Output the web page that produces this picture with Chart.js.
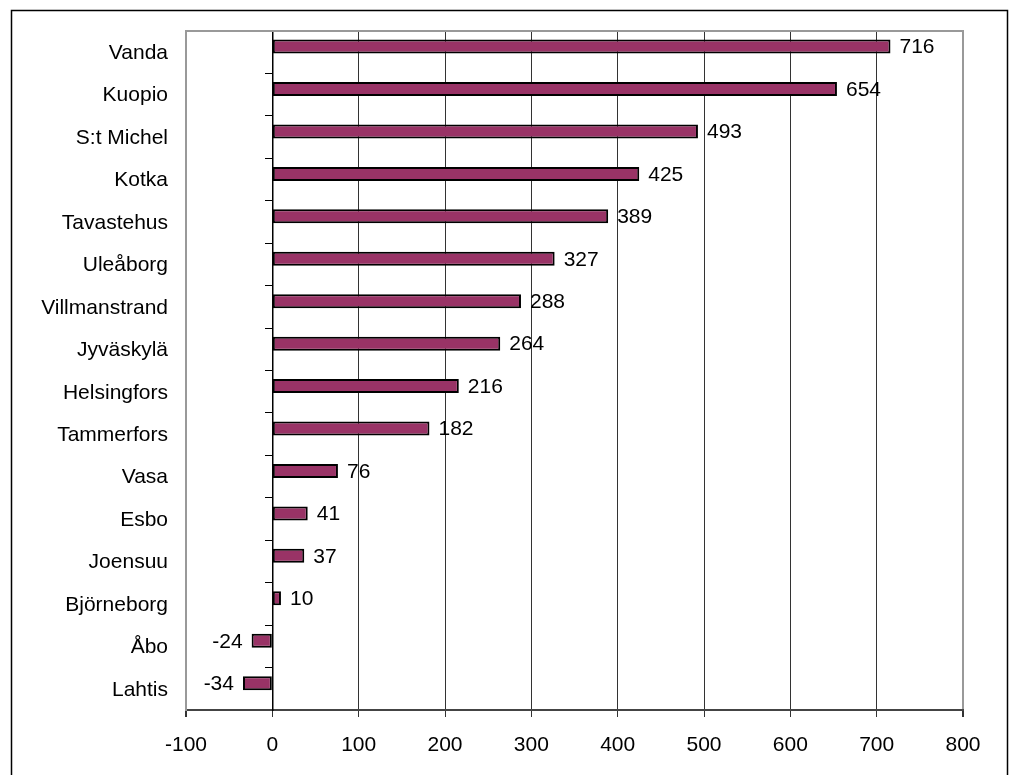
<!DOCTYPE html>
<html>
<head>
<meta charset="utf-8">
<title>Befolkningsökning per stad</title>
<script src="https://cdn.jsdelivr.net/npm/chart.js@4.4.1/dist/chart.umd.min.js"></script>
<style>
  html, body { margin: 0; padding: 0; background: #fff; }
  canvas { display: block; }
</style>
</head>
<body>
<canvas id="growthChart" width="1013" height="775"></canvas>
<script>
// Cities, top to bottom
const cities = ['Vanda', 'Kuopio', 'S:t Michel', 'Kotka', 'Tavastehus', 'Uleåborg',
    'Villmanstrand', 'Jyväskylä', 'Helsingfors', 'Tammerfors', 'Vasa', 'Esbo',
    'Joensuu', 'Björneborg', 'Åbo', 'Lahtis'];
const growth = [716, 654, 493, 425, 389, 327, 288, 264, 216, 182, 76, 41, 37, 10, -24, -34];
// empty second series, keeps the bars shifted up inside each category like the old sheet
const spare = cities.map(() => null);

const axisMin = -100;
const axisMax = 800;
const axisStep = 100;

const fontFamily = '"Liberation Sans", Arial, sans-serif';
Chart.defaults.font.family = fontFamily;
Chart.defaults.font.size = 21;
Chart.defaults.color = '#000';

// outer frame around the whole chart and top edge of the plot area
const framePlugin = {
    id: 'frame',
    beforeDraw(chart) {
        const ctx = chart.ctx;
        ctx.save();
        ctx.fillStyle = '#fff';
        ctx.fillRect(0, 0, chart.width, chart.height);
        ctx.strokeStyle = '#000';
        ctx.lineWidth = 1.5;
        ctx.strokeRect(11.5, 10.5, 996, 780);
        ctx.restore();
    },
    afterDraw(chart) {
        const a = chart.chartArea;
        const ctx = chart.ctx;
        ctx.save();
        ctx.strokeStyle = '#999';
        ctx.lineWidth = 2;
        ctx.beginPath();
        ctx.moveTo(a.left - 1, a.top);
        ctx.lineTo(a.right + 1, a.top);
        ctx.stroke();
        ctx.restore();
    }
};

// value printed next to the end of each bar
const valueLabels = {
    id: 'valueLabels',
    afterDatasetsDraw(chart) {
        const ctx = chart.ctx;
        const meta = chart.getDatasetMeta(0);
        ctx.save();
        ctx.font = '21px ' + fontFamily;
        ctx.fillStyle = '#000';
        ctx.textBaseline = 'middle';
        meta.data.forEach((bar, i) => {
            const v = growth[i];
            if (v >= 0) {
                ctx.textAlign = 'left';
                ctx.fillText(String(v), bar.x + 9, bar.y + 1);
            } else {
                ctx.textAlign = 'right';
                ctx.fillText(String(v), bar.x - 9, bar.y + 1);
            }
        });
        ctx.restore();
    }
};

const config = {
    type: 'bar',
    data: {
        labels: cities,
        datasets: [
            {
                label: 'Ökning',
                data: growth,
                backgroundColor: '#993366',
                borderColor: '#000',
                borderWidth: 2,
                borderSkipped: false,
                categoryPercentage: 0.53,
                barPercentage: 1.25
            },
            {
                label: '',
                data: spare,
                backgroundColor: '#993366',
                borderColor: '#000',
                borderWidth: 2,
                categoryPercentage: 0.53,
                barPercentage: 1.25
            }
        ]
    },
    options: {
        indexAxis: 'y',
        responsive: false,
        animation: false,
        layout: {
            padding: { top: 31, right: 50, bottom: 0, left: 0 }
        },
        plugins: {
            legend: { display: false },
            tooltip: { enabled: false }
        },
        scales: {
            x: {
                type: 'linear',
                min: axisMin,
                max: axisMax,
                afterFit(scale) { scale.height = 65; },
                ticks: {
                    stepSize: axisStep,
                    maxRotation: 0,
                    padding: 16,
                    color: '#000'
                },
                grid: {
                    color: (c) => (c.tick && (c.tick.value === axisMin || c.tick.value === axisMax)) ? '#999' : '#333',
                    lineWidth: (c) => (c.tick && (c.tick.value === axisMin || c.tick.value === axisMax)) ? 2 : 1,
                    tickColor: '#333',
                    tickLength: 7
                },
                border: { color: '#444', width: 2 }
            },
            y: {
                type: 'category',
                offset: true,
                afterFit(scale) { scale.width = 186; },
                ticks: { padding: 18, labelOffset: 1, color: '#000' },
                grid: { display: false, drawTicks: false },
                border: { color: '#999', width: 2 }
            },
            yZero: {
                type: 'category',
                axis: 'y',
                labels: cities,
                offset: true,
                position: { x: 0 },
                ticks: { display: false },
                grid: {
                    offset: true,
                    drawOnChartArea: false,
                    color: '#000',
                    tickLength: 7
                },
                border: { color: '#000', width: 1.5 }
            }
        }
    },
    plugins: [framePlugin, valueLabels]
};

window.onload = function() {
    const ctx = document.getElementById('growthChart').getContext('2d');
    new Chart(ctx, config);
};
</script>
</body>
</html>
